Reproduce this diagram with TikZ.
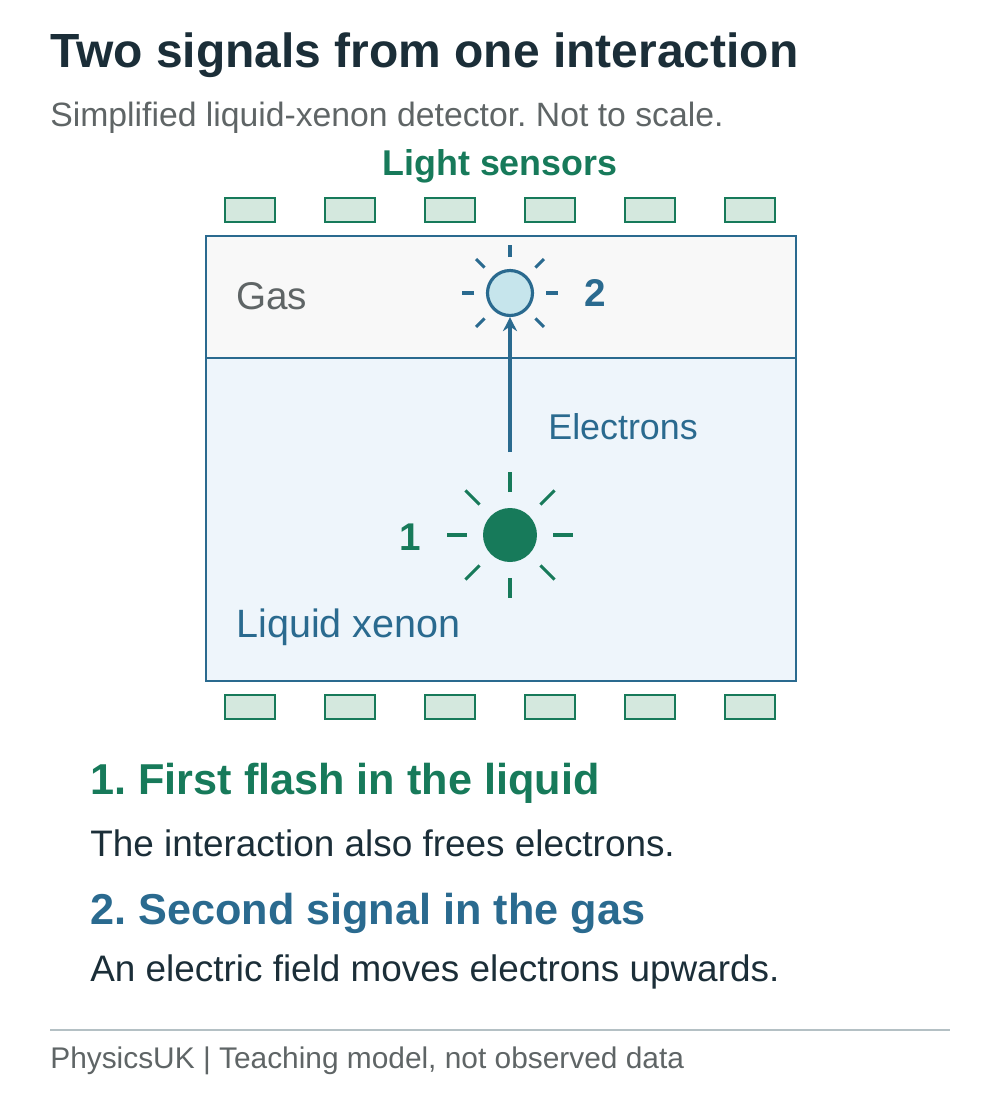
\documentclass[tikz,border=0pt]{standalone}
\usepackage{fontspec}
\setmainfont{Liberation Sans}
\frenchspacing
\usetikzlibrary{positioning,arrows.meta}
\definecolor{ink}{HTML}{1B2E38}
\definecolor{muted}{HTML}{5F6566}
\definecolor{teal}{HTML}{177A5A}
\definecolor{steel}{HTML}{2A6A8F}
\definecolor{gasfill}{HTML}{F8F8F8}
\definecolor{liqfill}{HTML}{EEF5FB}
\definecolor{sensfill}{HTML}{D4E8DE}
\definecolor{glowfill}{HTML}{C6E5EC}
\definecolor{rule}{HTML}{B4C0C4}
\begin{document}
\begin{tikzpicture}
	[x=0.02cm, y=-0.02cm,
	% STYLES
	every node/.style={inner sep=0pt},
	% The label style is used for plain left aligned texts
	label/.style={anchor=west, font=\fontsize{21}{25}\selectfont},
	% The sensor style is used to draw the light sensors
	sensor/.style={rectangle, draw=teal, fill=sensfill, line width=1.2pt, minimum width=1cm, minimum height=0.48cm},
	% The ray style is used for the dashes round each flash
	ray/.style={line width=1.8pt}]
	
	\useasboundingbox (0,0) rectangle (1000,1100);
	
	% Title and subtitle
	\node [anchor=west, font=\fontsize{27.3}{32}\selectfont\bfseries, text=ink] (title) at (50,55) {Two signals from one interaction};
	\node [label, text=muted, font=\fontsize{19.2}{23}\selectfont] (subtitle) at (50,118) {Simplified liquid-xenon detector. Not to scale.};
	\node [font=\fontsize{20.4}{24}\selectfont\bfseries, text=teal] (sensors) at (500,166) {Light sensors};
	
	% Detector box
	\node [rectangle, draw=steel, fill=gasfill, line width=1.2pt, minimum width=11.8cm, minimum height=2.44cm, anchor=north west] (Gas) at (205,235) {};
	\node [rectangle, draw=steel, fill=liqfill, line width=1.2pt, minimum width=11.8cm, minimum height=6.46cm, anchor=north west] (Liquid) at (205,357) {};
	\node [label, text=muted, font=\fontsize{22}{26}\selectfont] (gas-label) at (236,296) {Gas};
	\node [label, text=steel, font=\fontsize{22.5}{26}\selectfont] (liquid-label) at (236,627) {Liquid xenon};
	
	% Sensors above and below
	\foreach \i in {0,...,5} {
		\node [sensor] (top-\i) at (250+100*\i,210) {};
		\node [sensor] (bot-\i) at (250+100*\i,707) {};
	}
	
	% Flash 2 in the gas
	\node [circle, draw=steel, fill=glowfill, line width=1.8pt, minimum size=0.9cm] (Glow) at (510,293) {};
	\foreach \a in {0,45,...,315}
		\draw [ray, steel] (Glow.center) ++(\a:36) -- ++(\a:12);
	\node [font=\fontsize{22}{26}\selectfont\bfseries, text=steel] (two) at (595,293) {2};
	
	% Flash 1 in the liquid
	\node [circle, fill=teal, minimum size=1.08cm] (Flash) at (510,535) {};
	\foreach \a in {0,45,...,315}
		\draw [ray, teal] (Flash.center) ++(\a:43) -- ++(\a:20);
	\node [font=\fontsize{22}{26}\selectfont\bfseries, text=teal] (one) at (410,537) {1};
	
	% Drift of the electrons
	\coordinate (start) at (510,452);
	\draw [-{Stealth[length=8pt,width=8pt]}, steel, line width=2pt] (start) -- (Glow.south);
	\node [label, text=steel, font=\fontsize{20.4}{24}\selectfont] (electrons) at (548,427) {Electrons};
	
	% Explanations
	\node [anchor=west, font=\fontsize{24.6}{30}\selectfont\bfseries, text=teal] (head-one) at (90,783) {1. First flash in the liquid};
	\node [label, text=ink] (body-one) at (90,843) {The interaction also frees electrons.};
	\node [anchor=west, font=\fontsize{24.6}{30}\selectfont\bfseries, text=steel] (head-two) at (90,913) {2. Second signal in the gas};
	\node [label, text=ink] (body-two) at (90,972) {An electric field moves electrons upwards.};
	
	% Footer
	\draw [rule, line width=1pt] (50,1030) -- (950,1030);
	\node [label, text=muted, font=\fontsize{17}{20}\selectfont] (footer) at (50,1061) {PhysicsUK | Teaching model, not observed data};
\end{tikzpicture}
\end{document}
